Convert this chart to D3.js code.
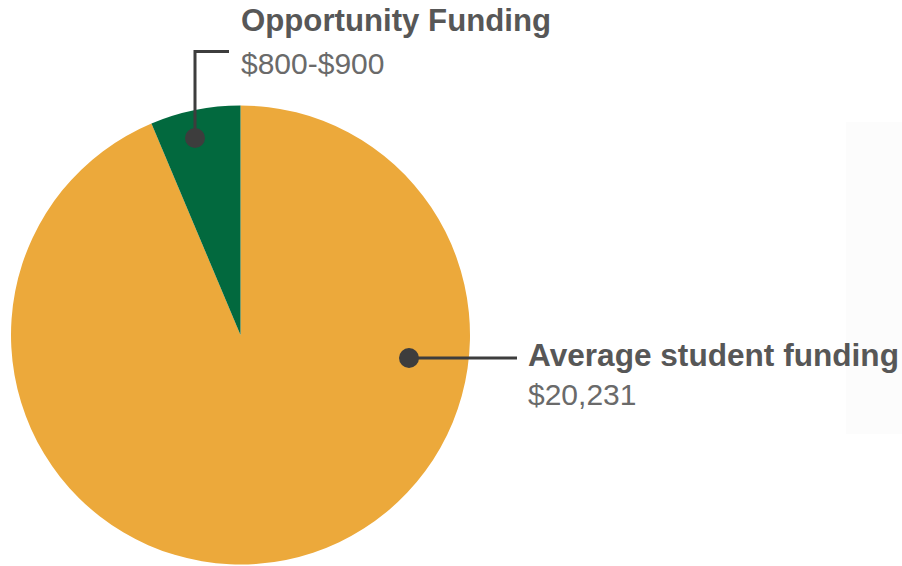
<!DOCTYPE html>
<html>
<head>
<meta charset="utf-8">
<script src="https://cdn.jsdelivr.net/npm/d3@7"></script>
<style>
  html, body { margin: 0; padding: 0; background: #fff; }
  svg { display: block; }
</style>
</head>
<body>
<svg id="chart" width="902" height="566"></svg>
<script>
// ---- data ----
const categories = ["Average student funding", "Opportunity Funding"];
const sliceValues = [20231, 1370];          // slice sizes
const valueLabels = ["$20,231", "$800-$900"];
const colors = ["#eca93b", "#02693e"];

// ---- layout ----
const W = 902, H = 566;
const cx = 240.5, cy = 335, R = 229.5;
const svg = d3.select("#chart");

// faint panel at right
svg.append("rect").attr("x", 846).attr("y", 122).attr("width", 56).attr("height", 312)
  .attr("fill", "#fcfcfc");

const pie = d3.pie().sort(null).startAngle(0).endAngle(2 * Math.PI);
const arc = d3.arc().innerRadius(0).outerRadius(R);
const arcs = pie(sliceValues);

const g = svg.append("g").attr("transform", `translate(${cx},${cy})`);
g.selectAll("path").data(arcs).join("path")
  .attr("d", arc)
  .attr("fill", (d, i) => colors[i]);

// ---- annotations ----
const lineColor = "#3d3d3d";
const annData = [
  { idx: 1, dot: [195, 138], path: [[195, 138], [195, 51.5], [229, 51.5]], tx: 241, ty1: 31, ty2: 74, fs: 31.2 },
  { idx: 0, dot: [409, 358], path: [[409, 358], [517, 358]], tx: 528, ty1: 366, ty2: 405, fs: 31.6 }
];

annData.forEach(a => {
  svg.append("path")
    .attr("d", d3.line()(a.path))
    .attr("fill", "none").attr("stroke", lineColor).attr("stroke-width", 3);
  svg.append("circle").attr("cx", a.dot[0]).attr("cy", a.dot[1]).attr("r", 10)
    .attr("fill", lineColor);
  svg.append("text").attr("x", a.tx).attr("y", a.ty1)
    .attr("font-family", "Liberation Sans, Arial, sans-serif")
    .attr("font-weight", "bold").attr("font-size", a.fs)
    .attr("fill", "#575757")
    .text(categories[a.idx]);
  svg.append("text").attr("x", a.tx).attr("y", a.ty2)
    .attr("font-family", "Liberation Sans, Arial, sans-serif")
    .attr("font-size", 30)
    .attr("fill", "#6a6a6a")
    .text(valueLabels[a.idx]);
});
</script>
</body>
</html>
